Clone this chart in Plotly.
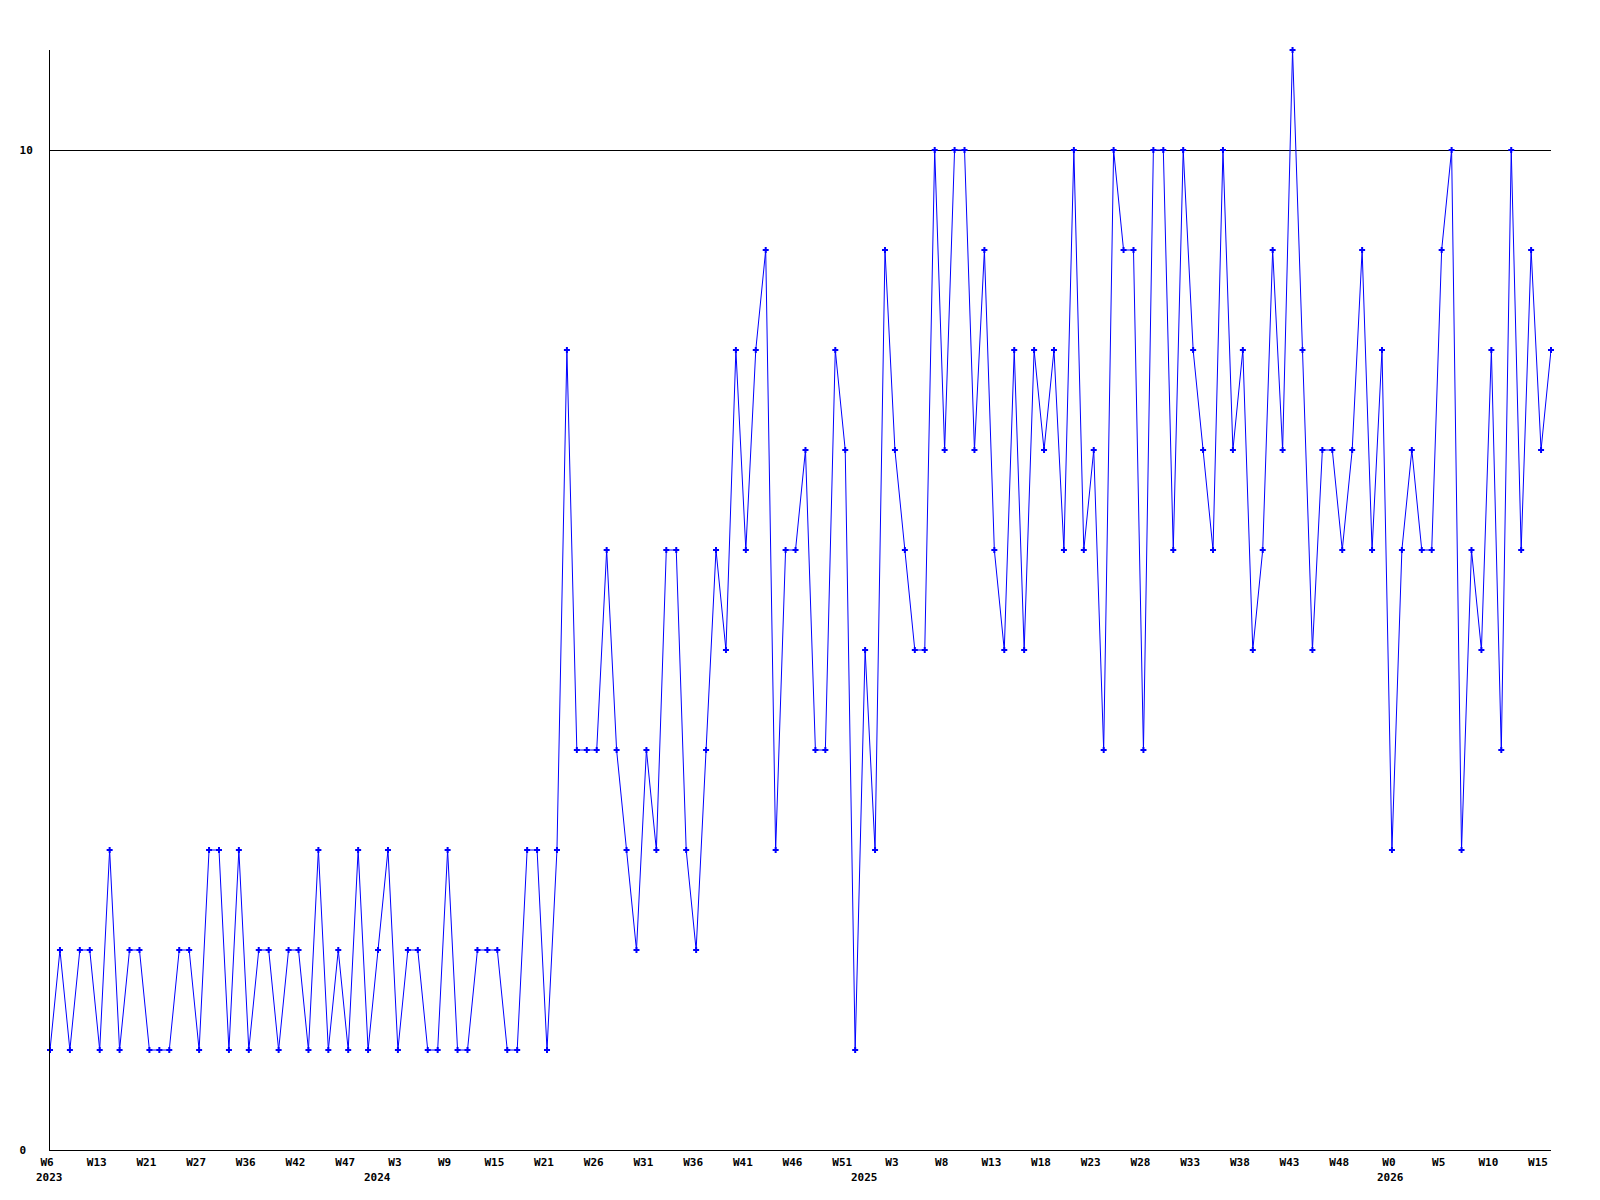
import plotly.graph_objects as go

# Weekly values
values = [
    1, 2, 1, 2, 2, 1, 3, 1, 2, 2,
    1, 1, 1, 2, 2, 1, 3, 3, 1, 3,
    1, 2, 2, 1, 2, 2, 1, 3, 1, 2,
    1, 3, 1, 2, 3, 1, 2, 2, 1, 1,
    3, 1, 1, 2, 2, 2, 1, 1, 3, 3,
    1, 3,
    8, 4, 4, 4, 6, 4, 3, 2, 4, 3,
    6, 6, 3, 2, 4, 6, 5, 8, 6, 8,
    9, 3, 6, 6, 7, 4, 4, 8, 7, 1,
    5, 3, 9, 7, 6, 5, 5, 10, 7, 10,
    10, 7, 9, 6, 5, 8, 5, 8, 7,
    8, 6, 10, 6, 7, 4, 10, 9, 9, 4,
    10, 10, 6, 10, 8, 7, 6, 10, 7, 8,
    5, 6, 9, 7, 11, 8, 5, 7, 7, 6,
    7, 9, 6, 8, 3, 6, 7, 6, 6, 9,
    10, 3, 6, 5, 8, 4, 10, 6, 9, 7,
    8,
]

week_labels = [
    "W6", "W13", "W21", "W27", "W36", "W42", "W47",
    "W3", "W9", "W15", "W21", "W26", "W31", "W36", "W41", "W46", "W51",
    "W3", "W8", "W13", "W18", "W23", "W28", "W33", "W38", "W43", "W48",
    "W0", "W5", "W10", "W15",
]
week_label_step = 5

year_labels = ["2023", "2024", "2025", "2026"]
year_label_index = [0, 33, 82, 135]

y_tick_vals = [0, 10]
y_tick_text = ["0\u00a0", "10"]

FONT = dict(family="DejaVu Sans Mono", size=11, color="black", weight="bold")

x = list(range(len(values)))

fig = go.Figure(
    go.Scatter(
        x=x,
        y=values,
        mode="lines+markers",
        line=dict(color="#0000ff", width=1),
        marker=dict(symbol="cross", size=5, color="#0000ff", line=dict(width=0)),
        cliponaxis=False,
        hoverinfo="x+y",
    )
)

fig.update_layout(
    width=1600,
    height=1200,
    margin=dict(l=50, r=49, t=50, b=50),
    plot_bgcolor="white",
    paper_bgcolor="white",
    showlegend=False,
    font=FONT,
)

fig.update_xaxes(
    range=[0, len(values) - 1],
    tickmode="array",
    tickvals=list(range(0, len(values), week_label_step))[: len(week_labels)],
    ticktext=week_labels,
    showgrid=False,
    zeroline=False,
    showline=True,
    linecolor="black",
    linewidth=1,
    ticks="",
    tickfont=FONT,
    ticklabelshift=-3,
    ticklabelstandoff=2,
)

fig.update_yaxes(
    range=[0, 11],
    tickmode="array",
    tickvals=y_tick_vals,
    ticktext=y_tick_text,
    showgrid=True,
    gridcolor="black",
    gridwidth=1,
    zeroline=False,
    showline=True,
    linecolor="black",
    linewidth=1,
    ticks="",
    tickfont=FONT,
    ticklabelstandoff=14,
)

for label, idx in zip(year_labels, year_label_index):
    fig.add_annotation(
        x=idx,
        y=0,
        xref="x",
        yref="paper",
        text=label,
        showarrow=False,
        xanchor="center",
        yanchor="middle",
        yshift=-27,
        xshift=-1,
        font=FONT,
    )

fig.write_html(
    "out.html",
    config={"displayModeBar": False},
    post_script="document.body.style.margin='0';",
)
